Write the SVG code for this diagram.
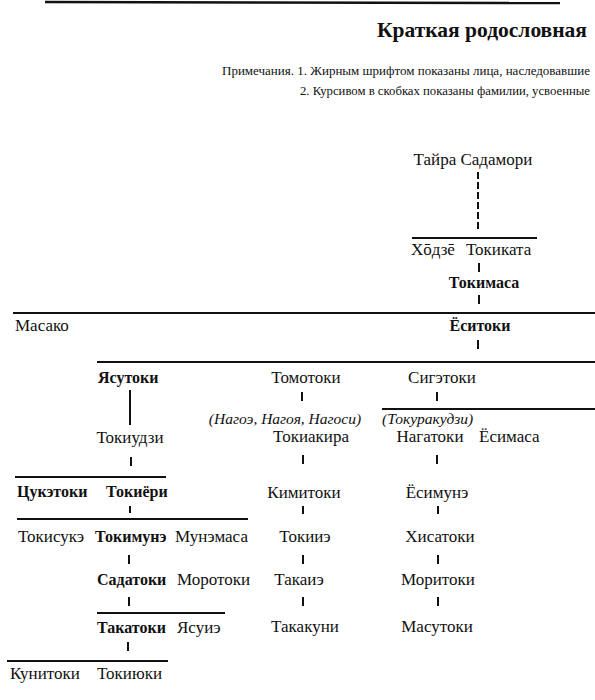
<svg xmlns="http://www.w3.org/2000/svg" width="595" height="700" viewBox="0 0 595 700">
<style>
text{font-family:"Liberation Serif","Times New Roman",serif;fill:#111}
.n{font-size:17px}
.b{font-size:16px;font-weight:bold}
.i{font-size:15.5px;font-style:italic}
.m{text-anchor:middle}
.h{stroke:#111;stroke-width:2.2;fill:none}
.t{stroke:#111;stroke-width:2;fill:none}
</style>
<rect width="595" height="700" fill="#fff"/>
<path d="M45 2 L560 3" stroke="#111" stroke-width="2.5"/>
<g id="header">
<text x="587" y="37" font-size="21.5" font-weight="bold" text-anchor="end">Краткая родословная</text>
<text x="222" y="75" font-size="13" textLength="368" lengthAdjust="spacingAndGlyphs">Примечания. 1. Жирным шрифтом показаны лица, наследовавшие</text>
<text x="300" y="95" font-size="13" textLength="290" lengthAdjust="spacingAndGlyphs">2. Курсивом в скобках показаны фамилии, усвоенные</text>
</g>
<g id="connectors">
<path class="t" d="M478 172 V230" stroke-dasharray="7,3"/>
<path class="h" d="M412 238 H537"/>
<path class="t" d="M479 263 V272"/>
<path class="t" d="M479 295 V304"/>
<path class="h" d="M13 313 H595"/>
<path class="t" d="M478 340 V349"/>
<path class="h" d="M97 362 H595"/>
<path class="t" d="M130 390 V425" stroke-width="1.6"/>
<path class="t" d="M302 392 V401"/>
<path class="t" d="M437 392 V401"/>
<path class="h" d="M382 409 H595"/>
<path class="t" d="M131 457 V466"/>
<path class="t" d="M303 455 V464"/>
<path class="t" d="M437 455 V464"/>
<path class="h" d="M15 477 H166"/>
<path class="t" d="M130 506 V513"/>
<path class="t" d="M303 506 V514"/>
<path class="t" d="M438 506 V514"/>
<path class="h" d="M17 519 H248"/>
<path class="t" d="M129 555 V564"/>
<path class="t" d="M303 555 V564"/>
<path class="t" d="M438 555 V564"/>
<path class="t" d="M129 597 V606"/>
<path class="t" d="M303 597 V606"/>
<path class="t" d="M438 597 V606"/>
<path class="h" d="M97 613 H225"/>
<path class="t" d="M128 642 V651"/>
<path class="h" d="M7 661 H168"/>
</g>
<g id="n-taira"><text class="n m" x="473" y="165">Тайра Садамори</text></g>
<g id="n-hodze"><text class="n" x="411" y="255">Хōдзē</text></g>
<g id="n-tokikata"><text class="n" x="466" y="255">Токиката</text></g>
<g id="n-tokimasa"><text class="b m" x="484" y="288">Токимаса</text></g>
<g id="n-masako"><text class="n" x="15" y="331">Масако</text></g>
<g id="n-esitoki"><text class="b m" x="480" y="331">Ёситоки</text></g>
<g id="n-yasutoki"><text class="b" x="98" y="383">Ясутоки</text></g>
<g id="n-tomotoki"><text class="n m" x="306" y="383">Томотоки</text></g>
<g id="n-sigetoki"><text class="n m" x="442" y="383">Сигэтоки</text></g>
<g id="n-tokiudzi"><text class="n m" x="130" y="443">Токиудзи</text></g>
<g id="n-tokiakira"><text class="i m" x="285" y="424">(Нагоэ, Нагоя, Нагоси)</text><text class="n m" x="311" y="442">Токиакира</text></g>
<g id="n-nagatoki"><text class="i" x="382" y="424" font-size="16">(Токуракудзи)</text><text class="n m" x="430" y="442">Нагатоки</text></g>
<g id="n-esimasa"><text class="n" x="479" y="442">Ёсимаса</text></g>
<g id="n-tsuketoki"><text class="b" x="17" y="497">Цукэтоки</text></g>
<g id="n-tokiyori"><text class="b" x="106" y="497">Токиёри</text></g>
<g id="n-kimitoki"><text class="n m" x="304" y="498">Кимитоки</text></g>
<g id="n-esimune"><text class="n m" x="437" y="498">Ёсимунэ</text></g>
<g id="n-tokisuke"><text class="n" x="18" y="542">Токисукэ</text></g>
<g id="n-tokimune"><text class="b" x="95" y="542">Токимунэ</text></g>
<g id="n-munemasa"><text class="n" x="175" y="542">Мунэмаса</text></g>
<g id="n-tokiie"><text class="n m" x="305" y="542">Токииэ</text></g>
<g id="n-hisatoki"><text class="n m" x="440" y="542">Хисатоки</text></g>
<g id="n-sadatoki"><text class="b" x="97" y="585">Садатоки</text></g>
<g id="n-morotoki"><text class="n" x="177" y="585">Моротоки</text></g>
<g id="n-takaie"><text class="n m" x="299" y="585">Такаиэ</text></g>
<g id="n-moritoki"><text class="n m" x="438" y="585">Моритоки</text></g>
<g id="n-takatoki"><text class="b" x="97" y="633">Такатоки</text></g>
<g id="n-yasuie"><text class="n" x="177" y="633">Ясуиэ</text></g>
<g id="n-takakuni"><text class="n m" x="305" y="632">Такакуни</text></g>
<g id="n-masutoki"><text class="n m" x="437" y="632">Масутоки</text></g>
<g id="n-kunitoki"><text class="n" x="10" y="679">Кунитоки</text></g>
<g id="n-tokiyuki"><text class="n" x="97" y="679">Токиюки</text></g>
</svg>
